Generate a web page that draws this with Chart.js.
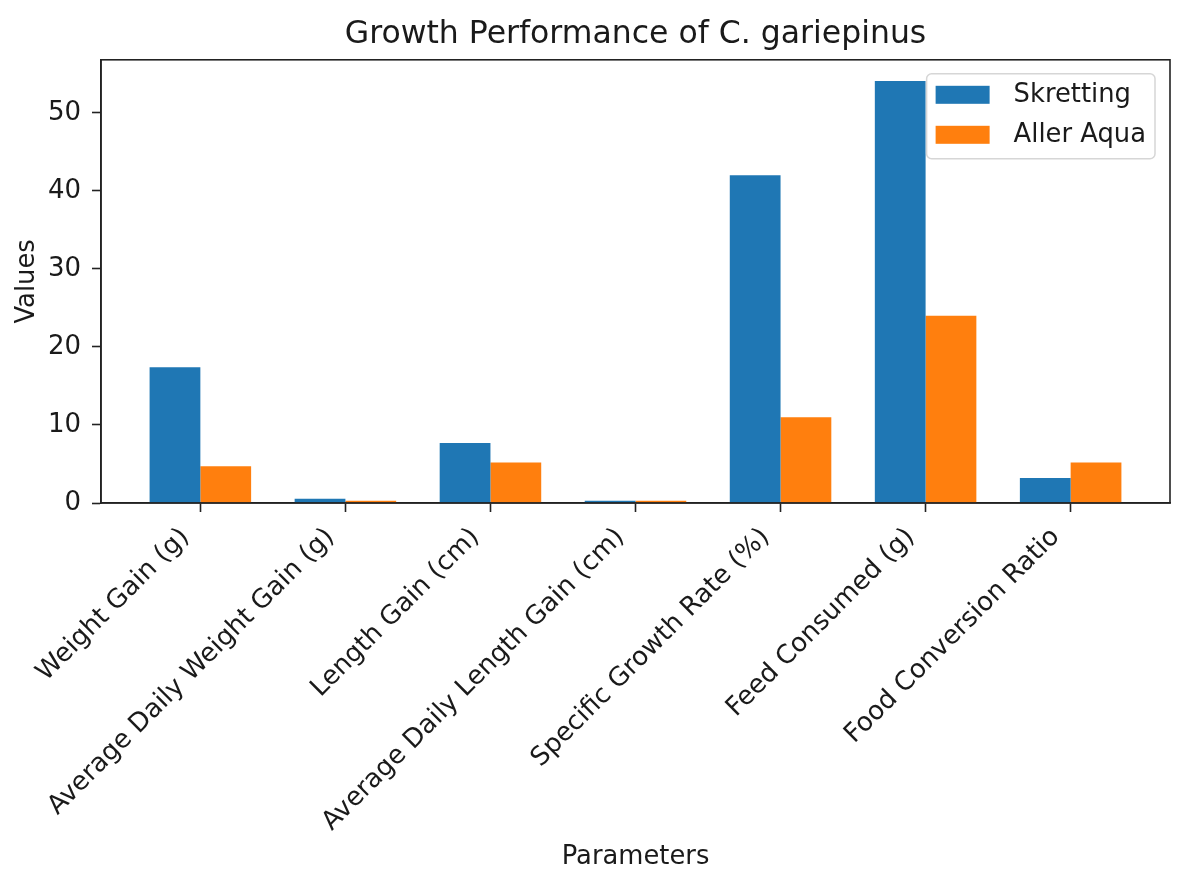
<!DOCTYPE html>
<html>
<head>
<meta charset="utf-8">
<title>Growth Performance of C. gariepinus</title>
<script src="https://cdn.jsdelivr.net/npm/chart.js@4.4.1/dist/chart.umd.min.js"></script>
<style>
    html, body { margin: 0; padding: 0; background: #fff; }
    #wrap { position: relative; width: 1190px; height: 883px; }
</style>
</head>
<body>
<div id="wrap"><canvas id="growth-chart"></canvas></div>
<script>
// parameters on the x axis
const categories = [
    'Weight Gain (g)',
    'Average Daily Weight Gain (g)',
    'Length Gain (cm)',
    'Average Daily Length Gain (cm)',
    'Specific Growth Rate (%)',
    'Feed Consumed (g)',
    'Food Conversion Ratio'
];
const skretting = [17.4, 0.55, 7.7, 0.3, 42.0, 54.1, 3.2];
const allerAqua = [4.7, 0.3, 5.2, 0.3, 11.0, 24.0, 5.2];
const yTicks = [0, 10, 20, 30, 40, 50];

const FONT = 'DejaVu Sans';
const FS = 26;
const TEXT = '#1a1a1a';
const BAR_W = 0.35;

// matplotlib style margins around the bars
const span = (categories.length - 1) + 2 * BAR_W;
const xMin = -BAR_W - 0.05 * span;
const xMax = (categories.length - 1) + BAR_W + 0.05 * span;
const yMax = Math.max(...skretting, ...allerAqua) * 1.05;

Chart.defaults.font.family = FONT;
Chart.defaults.font.size = FS;
Chart.defaults.color = TEXT;

// frame around the plot area (top / right spines)
const framePlugin = {
    id: 'frame',
    afterDatasetsDraw(chart) {
        const { ctx, chartArea: a } = chart;
        ctx.save();
        ctx.strokeStyle = '#222';
        ctx.lineWidth = 1.6;
        ctx.strokeRect(a.left, a.top, a.right - a.left, a.bottom - a.top);
        ctx.restore();
    }
};

// legend drawn inside the axes, upper right
const innerLegend = {
    id: 'innerLegend',
    afterDraw(chart) {
        const { ctx, chartArea: a } = chart;
        const sets = chart.data.datasets;
        ctx.save();
        ctx.font = `25.8px "${FONT}"`;
        const textW = Math.max(...sets.map(d => ctx.measureText(d.label).width));
        const pad = 9, handleW = 54, handleH = 18, gap = 24, rowH = 40;
        const w = pad + handleW + gap + textW + pad;
        const h = 85;
        const x = a.right - 15 - w;
        const y = a.top + 14;

        ctx.beginPath();
        ctx.roundRect(x, y, w, h, 5);
        ctx.fillStyle = 'rgba(255,255,255,0.8)';
        ctx.fill();
        ctx.strokeStyle = '#d6d6d6';
        ctx.lineWidth = 1.5;
        ctx.stroke();

        sets.forEach((d, i) => {
            const cy = y + 21 + i * rowH;
            ctx.fillStyle = d.backgroundColor;
            ctx.fillRect(x + pad, cy - handleH / 2, handleW, handleH);
            ctx.fillStyle = TEXT;
            ctx.textBaseline = 'middle';
            ctx.textAlign = 'left';
            ctx.fillText(d.label, x + pad + handleW + gap, cy);
        });
        ctx.restore();
    }
};

new Chart(document.getElementById('growth-chart'), {
    type: 'bar',
    data: {
        datasets: [
            {
                label: 'Skretting',
                data: skretting.map((v, i) => ({ x: i, y: v })),
                backgroundColor: '#1f77b4',
                borderWidth: 0
            },
            {
                label: 'Aller Aqua',
                data: allerAqua.map((v, i) => ({ x: i, y: v })),
                backgroundColor: '#ff7f0e',
                borderWidth: 0
            }
        ]
    },
    options: {
        responsive: true,
        maintainAspectRatio: false,
        animation: false,
        categoryPercentage: BAR_W * 2,
        barPercentage: 1.0,
        layout: { padding: { left: 0, right: 20, top: 12, bottom: 0 } },
        plugins: {
            legend: { display: false },
            tooltip: { enabled: false },
            title: {
                display: true,
                fullSize: false,
                text: 'Growth Performance of C. gariepinus',
                font: { size: 31.5, weight: 'normal' },
                color: TEXT,
                padding: { top: 4, bottom: 6 }
            }
        },
        scales: {
            x: {
                type: 'linear',
                min: xMin,
                max: xMax,
                offset: false,
                afterBuildTicks(scale) {
                    scale.ticks = categories.map((c, i) => ({ value: i }));
                },
                afterFit(scale) {
                    scale.height = 380;
                },
                ticks: {
                    autoSkip: false,
                    minRotation: 45,
                    maxRotation: 45,
                    padding: 10,
                    labelOffset: -15,
                    color: TEXT,
                    callback: v => categories[v]
                },
                grid: {
                    offset: false,
                    drawOnChartArea: false,
                    drawTicks: true,
                    tickLength: 9,
                    tickWidth: 1.6,
                    tickColor: '#222'
                },
                border: { color: '#222', width: 1.6 },
                title: {
                    display: true,
                    text: 'Parameters',
                    font: { size: 25.8 },
                    color: TEXT,
                    padding: { top: 0, bottom: 10 }
                }
            },
            y: {
                min: 0,
                max: yMax,
                afterBuildTicks(scale) {
                    scale.ticks = yTicks.map(v => ({ value: v }));
                },
                afterFit(scale) {
                    scale.width = 101;
                },
                ticks: {
                    padding: 11,
                    color: TEXT
                },
                grid: {
                    drawOnChartArea: false,
                    drawTicks: true,
                    tickLength: 9,
                    tickWidth: 1.6,
                    tickColor: '#222'
                },
                border: { color: '#222', width: 1.6 },
                title: {
                    display: true,
                    text: 'Values',
                    font: { size: 25.8 },
                    color: TEXT,
                    padding: { top: 12, bottom: 0 }
                }
            }
        }
    },
    plugins: [framePlugin, innerLegend]
});
</script>
</body>
</html>
